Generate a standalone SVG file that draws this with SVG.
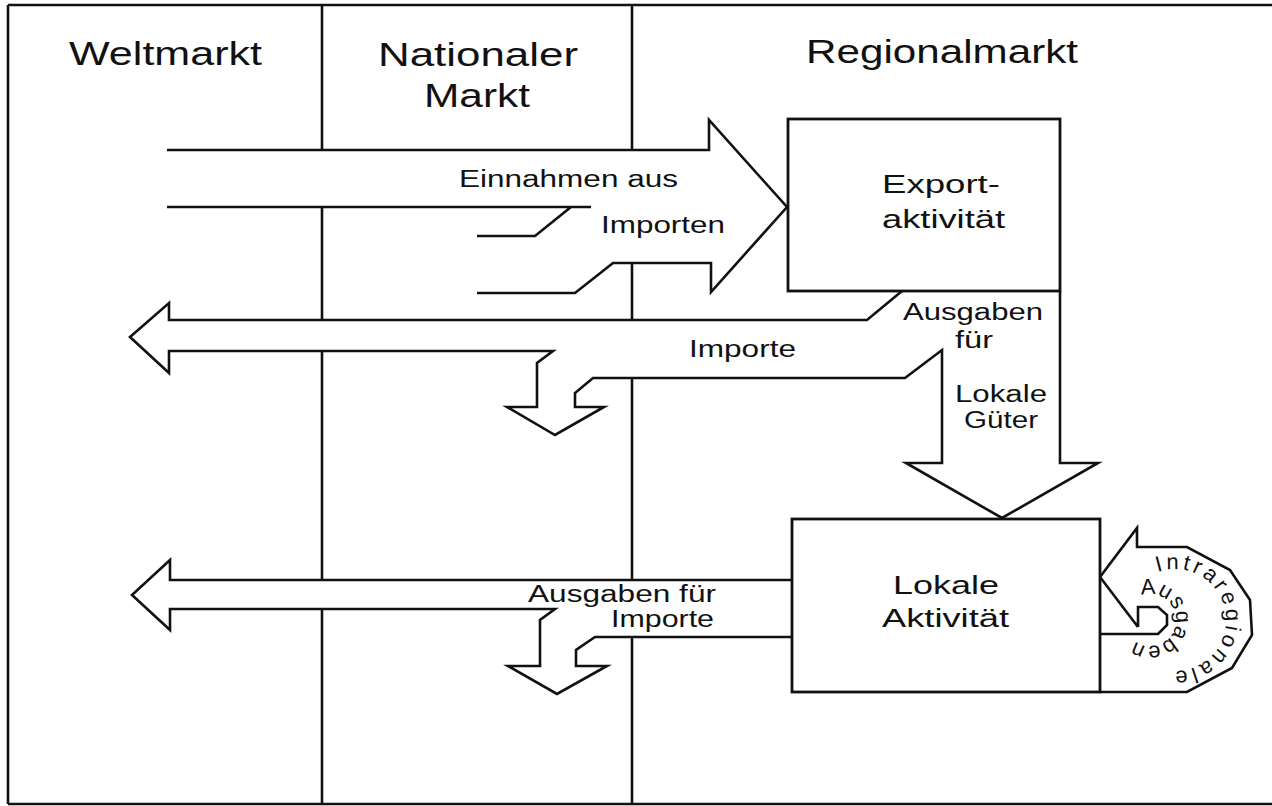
<svg xmlns="http://www.w3.org/2000/svg" width="1272" height="806" viewBox="0 0 1272 806">
<style>
.ln{fill:none;stroke:#111;stroke-width:2.6;stroke-linejoin:miter;stroke-linecap:butt}
.fl{fill:#fff;stroke:none}
.box{fill:#fff;stroke:#111;stroke-width:2.8}
text{font-family:"Liberation Sans",Arial,Helvetica,sans-serif;fill:#111}
.h{font-size:33px}
.b{font-size:25px}
.t{font-size:23px}
.c{font-size:22px}
</style>
<defs>
<path id="arcOuter" d="M1157.6,572.1 A51,51 0 1 1 1142.2,659.1"/>
<path id="arcInner" d="M1141.1,595.6 A26,26 0 1 1 1130.1,636.7"/>
</defs>
<rect x="0" y="0" width="1272" height="806" fill="#fff"/>
<g id="frame">
<path class="ln" d="M8,5 H1272 M8,5 V804 M8,804 H1272 M322,5 V804 M632,5 V804"/>
</g>
<g id="headers">
<text class="h" x="69" y="65" textLength="193" lengthAdjust="spacingAndGlyphs">Weltmarkt</text>
<text class="h" x="378" y="66" textLength="200" lengthAdjust="spacingAndGlyphs">Nationaler</text>
<text class="h" x="424" y="107" textLength="106" lengthAdjust="spacingAndGlyphs">Markt</text>
<text class="h" x="806" y="63" textLength="272" lengthAdjust="spacingAndGlyphs">Regionalmarkt</text>
</g>
<g id="connectors">
<g id="flow-einnahmen">
<path class="fl" d="M167,150 H709 V120 L787,207 L711,292 V263 H613 L575,293 H477 V236 H535 L571,207 H167 Z"/>
<path class="ln" d="M167,150 H709 V120 L787,207 L711,292 V263 H613 L575,293 H477"/>
<path class="ln" d="M167,207 H591 M571,207 L535,236 H477"/>
<text class="t" x="459" y="187" textLength="219" lengthAdjust="spacingAndGlyphs">Einnahmen aus</text>
<text class="t" x="601" y="233" textLength="124" lengthAdjust="spacingAndGlyphs">Importen</text>
</g>
<g id="flow-export-out">
<path class="fl" d="M902,291 L867,320 H169 V303 L130,337 L169,373 V351 H553 L537,363 V407 H507 L555,435 L604,407 H575 V393 L593,378 H905 L942,350 V463 H906 L1002,518 L1098,463 H1060 V291 Z"/>
<path class="ln" d="M902,291 L867,320 H169 V303 L130,337 L169,373 V351 H553 L537,363 V407 H507 L555,435 L604,407 H575 V393 L593,378 H905 L942,350 V463 H906 L1002,518 L1098,463 H1060 V291"/>
<text class="t" x="689" y="357" textLength="107" lengthAdjust="spacingAndGlyphs">Importe</text>
<text class="t" x="903" y="320" textLength="140" lengthAdjust="spacingAndGlyphs">Ausgaben</text>
<text class="t" x="955" y="348" textLength="38" lengthAdjust="spacingAndGlyphs">für</text>
<text class="t" x="955" y="402" textLength="92" lengthAdjust="spacingAndGlyphs">Lokale</text>
<text class="t" x="964" y="428" textLength="74" lengthAdjust="spacingAndGlyphs">Güter</text>
</g>
<g id="flow-lokal-out">
<path class="fl" d="M792,580 H170 V560 L132,595 L170,630 V609 H555 L540,620 V666 H508 L557,694 L607,666 H576 V650 L595,637 H792 Z"/>
<path class="ln" d="M792,580 H170 V560 L132,595 L170,630 V609 H555 L540,620 V666 H508 L557,694 L607,666 H576 V650 L595,637 H792"/>
<text class="t" x="528" y="602" textLength="188" lengthAdjust="spacingAndGlyphs">Ausgaben für</text>
<text class="t" x="611" y="627" textLength="103" lengthAdjust="spacingAndGlyphs">Importe</text>
</g>
<g id="flow-intraregional">
<path class="fl" d="M1100,577 L1137,528 V547 H1187 L1230,570 L1250,600 L1252,635 L1232,668 L1187,692 H1100 V634 H1158 L1167,625 V615 L1158,607 H1138 V627 Z"/>
<path class="ln" d="M1138,627 L1100,577 L1137,528 V547 H1187 L1230,570 L1250,600 L1252,635 L1232,668 L1187,692 H1100 M1100,634 H1158 L1167,625 V615 L1158,607 H1138 V627"/>
<text class="c" letter-spacing="3.3"><textPath href="#arcOuter">Intraregionale</textPath></text>
<text class="c" font-size="19" letter-spacing="1"><textPath href="#arcInner">Ausgaben</textPath></text>
</g>
</g>
<g id="export-box">
<rect class="box" x="788" y="119" width="272" height="172"/>
<text class="b" x="882" y="193" textLength="118" lengthAdjust="spacingAndGlyphs">Export-</text>
<text class="b" x="882" y="228" textLength="123" lengthAdjust="spacingAndGlyphs">aktivität</text>
</g>
<g id="local-box">
<rect class="box" x="792" y="519" width="308" height="173"/>
<text class="b" x="893" y="594" textLength="106" lengthAdjust="spacingAndGlyphs">Lokale</text>
<text class="b" x="882" y="627" textLength="127" lengthAdjust="spacingAndGlyphs">Aktivität</text>
</g>
</svg>
